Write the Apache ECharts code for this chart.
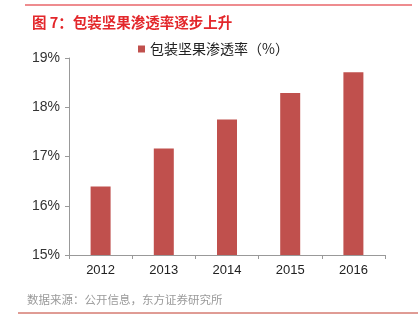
<!DOCTYPE html>
<html><head><meta charset="utf-8">
<script src="https://cdn.jsdelivr.net/npm/echarts@6/dist/echarts.min.js"></script>
<style>html,body{margin:0;padding:0;background:#fff}#c{width:420px;height:334px}</style>
</head><body><div id="c"></div>
<script>
var categories = ['2012','2013','2014','2015','2016'];
var penetration = [16.39, 17.16, 17.75, 18.29, 18.71];
var seriesName = '包装坚果渗透率（%）';
var titleText = '图 7：包装坚果渗透率逐步上升';
var sourceText = '数据来源：公开信息，东方证券研究所';

var chart = echarts.init(document.getElementById('c'));
chart.setOption({
  animation: false,
  textStyle: {fontFamily: '"Noto Sans CJK SC", "Liberation Sans", sans-serif'},
  title: {
    text: titleText, left: 27, top: 10,
    textStyle: {color: '#E3272B', fontSize: 14.5, fontWeight: 'bold', fontFamily: '"Noto Sans CJK SC", sans-serif'}
  },
  legend: {
    data: [seriesName], left: 133, top: 37, itemWidth: 7, itemHeight: 7, itemGap: 4,
    icon: 'rect',
    textStyle: {fontSize: 14, color: '#222', fontFamily: '"Noto Sans CJK SC", sans-serif'}
  },
  grid: {left: 69, right: 35, top: 58, bottom: 79, containLabel: false},
  xAxis: {
    type: 'category', data: categories,
    axisLine: {lineStyle: {color: '#999'}},
    axisTick: {show: true, alignWithLabel: false, length: 4, lineStyle: {color: '#999'}},
    axisLabel: {color: '#222', fontSize: 13, margin: 9, fontFamily: '"Liberation Sans", sans-serif'}
  },
  yAxis: {
    type: 'value', min: 15, max: 19, interval: 1,
    axisLine: {show: true, lineStyle: {color: '#999'}},
    axisTick: {show: true, length: 4, inside: false, lineStyle: {color: '#999'}},
    splitLine: {show: false},
    axisLabel: {color: '#333', fontSize: 14, margin: 9, formatter: '{value}%', fontFamily: '"Liberation Sans", sans-serif'}
  },
  series: [{
    name: seriesName, type: 'bar', data: penetration, barWidth: 20,
    itemStyle: {color: '#C0504D'}
  }],
  graphic: [
    {type: 'line', shape: {x1: 25, y1: 5, x2: 412, y2: 5}, style: {stroke: '#E8666A', lineWidth: 1.5}},
    {type: 'text', left: 27, top: 294, style: {text: sourceText, fill: '#9A9A9A', fontSize: 11.5, fontFamily: '"Noto Sans CJK SC", sans-serif'}},
    {type: 'line', shape: {x1: 18, y1: 313, x2: 418, y2: 313}, style: {stroke: '#C0392B', lineWidth: 1}}
  ]
});
</script></body></html>
